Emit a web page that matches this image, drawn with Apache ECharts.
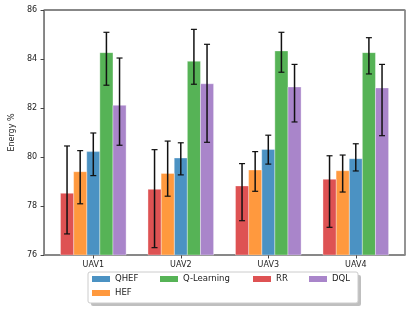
<!DOCTYPE html>
<html>
<head>
<meta charset="utf-8">
<script src="https://cdn.jsdelivr.net/npm/echarts@6/dist/echarts.min.js"></script>
<style>html,body{margin:0;padding:0;background:#fff}#c{width:415px;height:311px}</style>
</head>
<body>
<div id="c"></div>
<script>
// ---- data ----
const categories = ['UAV1', 'UAV2', 'UAV3', 'UAV4'];
const yTicks = [76, 78, 80, 82, 84, 86];

const rrValues    = [78.52, 78.68, 78.82, 79.09];
const rrLow       = [76.86, 76.30, 77.40, 77.13];
const rrHigh      = [80.45, 80.30, 79.73, 80.05];

const hefValues   = [79.40, 79.33, 79.47, 79.44];
const hefLow      = [78.09, 78.40, 78.60, 78.57];
const hefHigh     = [80.26, 80.65, 80.22, 80.08];

const qhefValues  = [80.22, 79.96, 80.31, 79.93];
const qhefLow     = [79.24, 79.27, 79.71, 79.43];
const qhefHigh    = [80.98, 80.58, 80.89, 80.54];

const qlValues    = [84.26, 83.91, 84.33, 84.26];
const qlLow       = [82.93, 82.97, 83.46, 83.39];
const qlHigh      = [85.09, 85.21, 85.09, 84.87];

const dqlValues   = [82.11, 82.99, 82.86, 82.82];
const dqlLow      = [80.48, 80.60, 81.43, 80.87];
const dqlHigh     = [84.04, 84.60, 83.78, 83.78];

// ---- chart ----
const BAR_W = 0.15;
const Y_MIN = 76, Y_MAX = 86;
const seriesDefs = [
  {name: 'QHEF',       vals: qhefValues, lo: qhefLow, hi: qhefHigh, off: 0,     color: '#4b92c3'},
  {name: 'HEF',        vals: hefValues,  lo: hefLow,  hi: hefHigh,  off: -0.15, color: '#ff993e'},
  {name: 'Q-Learning', vals: qlValues,   lo: qlLow,   hi: qlHigh,   off: 0.15,  color: '#56b356'},
  {name: 'RR',         vals: rrValues,   lo: rrLow,   hi: rrHigh,   off: -0.3,  color: '#de5253'},
  {name: 'DQL',        vals: dqlValues,  lo: dqlLow,  hi: dqlHigh,  off: 0.3,   color: '#a985ca'}
];

function makeSeries(def) {
  return {
    type: 'custom',
    name: def.name,
    itemStyle: {color: def.color},
    data: categories.map((c, i) => [i + def.off, def.vals[i], def.lo[i], def.hi[i]]),
    encode: {x: 0, y: [1, 2, 3]},
    renderItem: function (params, api) {
      const x = api.value(0), v = api.value(1), lo = api.value(2), hi = api.value(3);
      const p0 = api.coord([x - BAR_W / 2, v]);
      const p1 = api.coord([x + BAR_W / 2, Y_MIN]);
      const pc = api.coord([x, lo]);
      const ph = api.coord([x, hi]);
      const cap = 3;
      return {
        type: 'group',
        children: [
          {type: 'rect', shape: {x: p0[0], y: p0[1], width: p1[0] - p0[0], height: p1[1] - p0[1]},
           style: {fill: def.color, stroke: 'rgba(255,255,255,0.45)', lineWidth: 0.8}},
          {type: 'line', shape: {x1: pc[0], y1: pc[1], x2: ph[0], y2: ph[1]}, style: {stroke: '#111', lineWidth: 1.5}, z2: 5},
          {type: 'line', shape: {x1: pc[0] - cap, y1: pc[1], x2: pc[0] + cap, y2: pc[1]}, style: {stroke: '#111', lineWidth: 1.2}, z2: 5},
          {type: 'line', shape: {x1: ph[0] - cap, y1: ph[1], x2: ph[0] + cap, y2: ph[1]}, style: {stroke: '#111', lineWidth: 1.2}, z2: 5}
        ]
      };
    }
  };
}

const chart = echarts.init(document.getElementById('c'), null, {renderer: 'canvas'});
const legendText = {fontSize: 8.5, color: '#222', fontFamily: 'DejaVu Sans', lineHeight: 10};
const legendBase = {orient: 'vertical', icon: 'rect', itemWidth: 18, itemHeight: 6, itemGap: 4,
  textStyle: legendText, padding: 0, selectedMode: false};
chart.setOption({
  animation: false,
  textStyle: {fontFamily: 'DejaVu Sans'},
  grid: {left: 40, right: 10, top: 10, bottom: 56, show: true, borderColor: '#111', borderWidth: 1, backgroundColor: 'transparent'},
  xAxis: {
    type: 'value', min: -0.5625, max: 3.5625,
    splitLine: {show: false},
    axisLine: {show: true, onZero: false, lineStyle: {color: '#888', width: 1.5}},
    axisTick: {show: true, customValues: [0, 1, 2, 3], length: 3.5, lineStyle: {color: '#444', width: 1}},
    axisLabel: {customValues: [0, 1, 2, 3], formatter: v => categories[Math.round(v)], fontSize: 8, color: '#222', margin: 6}
  },
  yAxis: [{
    type: 'value', min: Y_MIN, max: Y_MAX, interval: 2,
    name: 'Energy %', nameLocation: 'middle', nameGap: 23,
    nameTextStyle: {fontSize: 8, color: '#222'},
    splitLine: {show: false},
    axisLine: {show: true, onZero: false, lineStyle: {color: '#888', width: 1.5}},
    axisTick: {show: true, length: 3.5, lineStyle: {color: '#444', width: 1}},
    axisLabel: {fontSize: 8, color: '#222', margin: 7, formatter: v => yTicks.includes(v) ? String(v) : ''}
  }, {
    type: 'value', min: Y_MIN, max: Y_MAX, position: 'right',
    splitLine: {show: false}, axisTick: {show: false}, axisLabel: {show: false},
    axisLine: {show: true, onZero: false, lineStyle: {color: '#999', width: 1.5}}
  }],
  graphic: [
    {type: 'rect', shape: {x: 91, y: 275, width: 270, height: 31, r: 2}, style: {fill: 'rgba(128,128,128,0.5)'}, z: 0},
    {type: 'rect', shape: {x: 88, y: 272, width: 270, height: 31, r: 2}, style: {fill: '#fff', stroke: '#ccc', lineWidth: 1}, z: 1}
  ],
  legend: [
    Object.assign({}, legendBase, {left: 92, top: 274, data: ['QHEF', 'HEF']}),
    Object.assign({}, legendBase, {left: 160, top: 274, data: ['Q-Learning']}),
    Object.assign({}, legendBase, {left: 253, top: 274, data: ['RR']}),
    Object.assign({}, legendBase, {left: 309, top: 274, data: ['DQL']})
  ],
  series: seriesDefs.map(makeSeries)
});
</script>
</body>
</html>
